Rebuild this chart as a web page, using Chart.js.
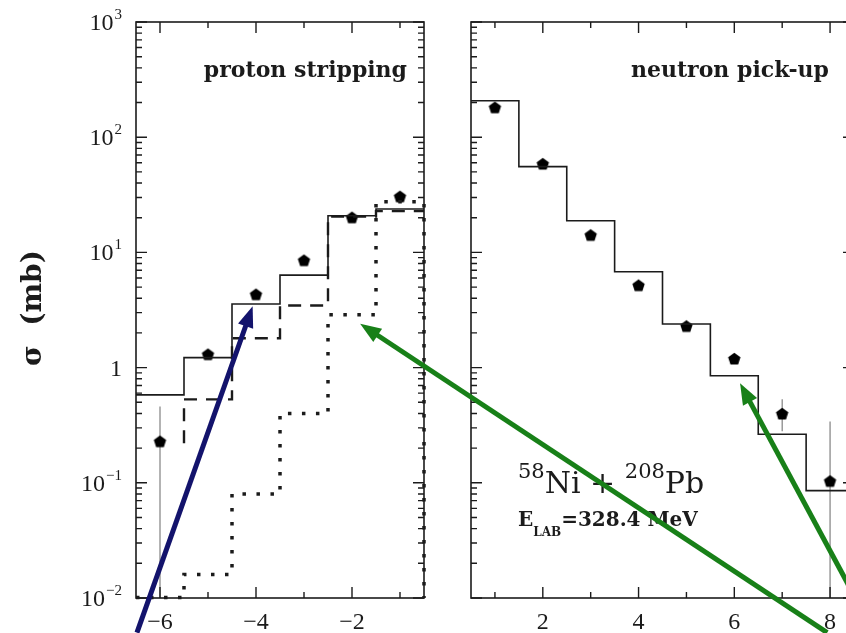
<!DOCTYPE html>
<html>
<head>
<meta charset="utf-8">
<script src="https://cdn.jsdelivr.net/npm/chart.js@4/dist/chart.umd.min.js"></script>
<style>
    html, body { margin: 0; padding: 0; background: #fff; overflow: hidden; width: 846px; height: 633px; }
    canvas { position: absolute; top: 0; }
    #leftPanel { left: 0; }
    #rightPanel { left: 440px; }
    #arrows { left: 0; pointer-events: none; }
</style>
</head>
<body>
<canvas id="leftPanel" width="440" height="633" style="width:440px;height:633px"></canvas>
<canvas id="rightPanel" width="440" height="633" style="width:440px;height:633px"></canvas>
<canvas id="arrows" width="846" height="633" style="width:846px;height:633px"></canvas>
<script>
// proton stripping (left panel), bins are in units of the x axis
const protonBins = [-6, -5, -4, -3, -2, -1];
const protonTotal = [0.58, 1.22, 3.57, 6.35, 20.8, 23.8];
const protonDashed = [null, 0.53, 1.80, 3.46, 20.5, 22.8];
const protonDashedFloor = 0.22;
const protonDotted = [0.0101, 0.016, 0.080, 0.40, 2.87, 27.5];
const protonExp = [0.23, 1.31, 4.34, 8.57, 20.2, 30.7];
const protonErrLo = [0.001, null, null, null, null, null];
const protonErrHi = [0.46, null, null, null, null, null];

// neutron pick-up (right panel)
const neutronBins = [1, 2, 3, 4, 5, 6, 7, 8];
const neutronTotal = [207, 55.5, 18.8, 6.8, 2.39, 0.85, 0.264, 0.0855];
const neutronExp = [182, 59, 14.2, 5.2, 2.30, 1.20, 0.40, 0.104];
const neutronErrLo = [null, null, null, null, null, null, 0.28, 0.001];
const neutronErrHi = [null, null, null, null, null, null, 0.53, 0.34];

// log axis decades and their labels [mantissa, exponent]
const yTicks = [0.01, 0.1, 1, 10, 100, 1000];
const yTickLabels = [['10', '\u22122'], ['10', '\u22121'], ['1', ''], ['10', '1'], ['10', '2'], ['10', '3']];

const INK = '#1b1b1b';
const SERIF = '"DejaVu Serif", serif';
const TICKFONT = '"Liberation Serif", serif';

// histogram outline: left and right edge of every bin
function histPoints(bins, values, opts = {}) {
    const pts = [];
    bins.forEach((b, i) => {
        const v = values[i];
        if (v == null) return;
        if (!pts.length && opts.floor != null) pts.push({ x: b - 0.5, y: opts.floor });
        pts.push({ x: b - 0.5, y: v }, { x: b + 0.5, y: v });
    });
    if (opts.dropTo != null) pts.push({ x: pts[pts.length - 1].x, y: opts.dropTo });
    return pts;
}

function pentagon(r) {
    const c = document.createElement('canvas');
    const s = Math.ceil(r * 2 + 2);
    c.width = s; c.height = s;
    const g = c.getContext('2d');
    g.fillStyle = '#000';
    g.beginPath();
    for (let i = 0; i < 5; i++) {
        const a = -Math.PI / 2 + i * 2 * Math.PI / 5;
        const px = s / 2 + r * Math.cos(a), py = s / 2 + r * Math.sin(a) + r * 0.1;
        if (i) g.lineTo(px, py); else g.moveTo(px, py);
    }
    g.closePath();
    g.fill();
    return c;
}
const marker = pentagon(6.5);

function lineSet(points, width, dash) {
    return {
        data: points, showLine: true, pointRadius: 0, borderColor: INK, borderWidth: width,
        borderDash: dash || [], borderCapStyle: 'butt', tension: 0, clip: 3, fill: false
    };
}

function pointSet(bins, values) {
    return {
        data: bins.map((b, i) => ({ x: b, y: values[i] })),
        showLine: false, pointStyle: marker, pointRadius: 6, clip: 6
    };
}

function scales(bins, xMin, xMax, yWidth) {
    return {
        x: {
            type: 'linear', min: xMin, max: xMax,
            grid: { display: false }, border: { display: false },
            afterBuildTicks: s => { s.ticks = bins.map(v => ({ value: v })); },
            afterFit: s => { s.height = 35; },
            ticks: {
                autoSkip: false, maxRotation: 0, padding: 2, color: INK,
                font: { family: TICKFONT, size: 24 },
                callback: v => (v % 2 === 0 ? String(v).replace('-', '\u2212') : '')
            }
        },
        y: {
            type: 'logarithmic', min: yTicks[0], max: yTicks[yTicks.length - 1],
            grid: { display: false }, border: { display: false },
            ticks: { display: false },
            afterFit: s => { s.width = yWidth; }
        }
    };
}

// frame with inward ticks on all four sides
function drawFrame(chart) {
    const { ctx, chartArea: a, scales: { x, y } } = chart;
    ctx.save();
    ctx.strokeStyle = INK;
    ctx.lineWidth = 1.6;
    ctx.strokeRect(a.left, a.top, a.right - a.left, a.bottom - a.top);
    ctx.lineWidth = 1.4;
    ctx.beginPath();
    x.ticks.forEach(t => {
        const px = x.getPixelForValue(t.value);
        const len = t.value % 2 === 0 ? 11 : 6;
        ctx.moveTo(px, a.bottom); ctx.lineTo(px, a.bottom - len);
        ctx.moveTo(px, a.top); ctx.lineTo(px, a.top + len);
    });
    const e0 = Math.round(Math.log10(y.min)), e1 = Math.round(Math.log10(y.max));
    for (let e = e0; e <= e1; e++) {
        for (let k = 1; k <= 9; k++) {
            const v = k * Math.pow(10, e);
            if (v > y.max * 1.001) break;
            const py = y.getPixelForValue(v);
            const len = k === 1 ? 11 : 6;
            ctx.moveTo(a.left, py); ctx.lineTo(a.left + len, py);
            ctx.moveTo(a.right, py); ctx.lineTo(a.right - len, py);
        }
    }
    ctx.stroke();
    ctx.restore();
}

function drawErrors(chart, bins, values, lo, hi) {
    const { ctx, chartArea: a, scales: { x, y } } = chart;
    ctx.save();
    ctx.beginPath();
    ctx.rect(a.left, a.top, a.right - a.left, a.bottom - a.top);
    ctx.clip();
    ctx.strokeStyle = '#808080';
    ctx.lineWidth = 1.2;
    ctx.beginPath();
    bins.forEach((b, i) => {
        if (lo[i] == null || hi[i] == null) return;
        const px = x.getPixelForValue(b);
        ctx.moveTo(px, y.getPixelForValue(hi[i]));
        ctx.lineTo(px, y.getPixelForValue(lo[i]));
    });
    ctx.stroke();
    ctx.restore();
}

// text run made of pieces: [text, font, baselineShift]
function drawRun(ctx, x0, y0, pieces) {
    let cx = x0;
    pieces.forEach(([t, font, dy]) => {
        ctx.font = font;
        ctx.fillText(t, cx, y0 + dy);
        cx += ctx.measureText(t).width;
    });
}

const leftDecor = {
    id: 'leftDecor',
    beforeDatasetsDraw(chart) {
        drawErrors(chart, protonBins, protonExp, protonErrLo, protonErrHi);
    },
    afterDraw(chart) {
        const { ctx, chartArea: a, scales: { y } } = chart;
        drawFrame(chart);
        ctx.save();
        ctx.fillStyle = INK;
        ctx.textBaseline = 'alphabetic';

        // decade labels with raised exponents
        yTicks.forEach((v, i) => {
            const [base, exp] = yTickLabels[i];
            const py = y.getPixelForValue(v);
            const right = a.left - 14;
            ctx.font = '15px ' + TICKFONT;
            const ew = exp ? ctx.measureText(exp).width : 0;
            ctx.textAlign = 'right';
            if (exp) ctx.fillText(exp, right, py - 3);
            ctx.font = '24px ' + TICKFONT;
            ctx.fillText(base, right - ew - (exp ? 1 : 0), py + 8);
        });

        ctx.textAlign = 'right';
        ctx.font = 'bold 22px ' + SERIF;
        ctx.fillText('proton stripping', a.right - 17, a.top + 55);

        // axis title, read bottom to top
        ctx.translate(34, 308);
        ctx.rotate(-Math.PI / 2);
        ctx.textAlign = 'center';
        ctx.textBaseline = 'middle';
        ctx.font = 'bold 28px ' + SERIF;
        ctx.fillText('\u03c3  (mb)', 0, 0);
        ctx.restore();
    }
};

const rightDecor = {
    id: 'rightDecor',
    beforeDatasetsDraw(chart) {
        drawErrors(chart, neutronBins, neutronExp, neutronErrLo, neutronErrHi);
    },
    afterDraw(chart) {
        const { ctx, chartArea: a } = chart;
        drawFrame(chart);
        ctx.save();
        ctx.fillStyle = INK;
        ctx.textAlign = 'right';
        ctx.font = 'bold 22px ' + SERIF;
        ctx.fillText('neutron pick-up', a.right - 25, a.top + 55);

        ctx.textAlign = 'left';
        const big = '30px ' + SERIF, sup = '21px ' + SERIF;
        drawRun(ctx, a.left + 47, 493, [
            ['58', sup, -15], ['Ni', big, 0], [' + ', big, 0], ['208', sup, -15], ['Pb', big, 0]
        ]);
        const lab = 'bold 20px ' + SERIF, sub = 'bold 12px ' + SERIF;
        drawRun(ctx, a.left + 47, 526, [
            ['E', lab, 0], ['LAB', sub, 10], ['=328.4 MeV', lab, 0]
        ]);
        ctx.restore();
    }
};

const common = {
    responsive: false, animation: false, events: [],
    plugins: { legend: { display: false }, tooltip: { enabled: false } }
};

const leftChart = new Chart(document.getElementById('leftPanel'), {
    type: 'scatter',
    data: {
        datasets: [
            lineSet(histPoints(protonBins, protonTotal), 1.6),
            lineSet(histPoints(protonBins, protonDashed, { floor: protonDashedFloor }), 2.4, [13, 9]),
            lineSet(histPoints(protonBins, protonDotted, { dropTo: yTicks[0] }), 3.5, [3.5, 10.5]),
            pointSet(protonBins, protonExp)
        ]
    },
    options: {
        ...common,
        layout: { padding: { left: 0, right: 16, top: 22, bottom: 0 } },
        scales: scales(protonBins, -6.5, -0.5, 136)
    },
    plugins: [leftDecor]
});

const rightChart = new Chart(document.getElementById('rightPanel'), {
    type: 'scatter',
    data: {
        datasets: [
            lineSet(histPoints(neutronBins, neutronTotal), 1.6),
            pointSet(neutronBins, neutronExp)
        ]
    },
    options: {
        ...common,
        layout: { padding: { left: 0, right: 26, top: 22, bottom: 0 } },
        scales: scales(neutronBins, 0.5, 8.5, 31)
    },
    plugins: [rightDecor]
});

// pointer arrows, ends given in the data units of the panel they sit in
const arrowList = [
    { color: '#13136c', from: [leftChart, -6.48, 0.005], to: [leftChart, -4.07, 3.4] },
    { color: '#188018', from: [rightChart, 7.94, 0.005], to: [leftChart, -1.83, 2.4] },
    { color: '#188018', from: [rightChart, 8.92, 0.005], to: [rightChart, 6.12, 0.73] }
];

function pagePoint([chart, vx, vy]) {
    const off = chart.canvas.offsetLeft;
    return [off + chart.scales.x.getPixelForValue(vx), chart.scales.y.getPixelForValue(vy)];
}

const actx = document.getElementById('arrows').getContext('2d');
arrowList.forEach(ar => {
    const [x1, y1] = pagePoint(ar.from);
    const [x2, y2] = pagePoint(ar.to);
    const ang = Math.atan2(y2 - y1, x2 - x1);
    const head = 21, half = 8;
    const bx = x2 - head * Math.cos(ang), by = y2 - head * Math.sin(ang);
    actx.strokeStyle = ar.color;
    actx.fillStyle = ar.color;
    actx.lineWidth = 5;
    actx.beginPath();
    actx.moveTo(x1, y1);
    actx.lineTo(bx + 2 * Math.cos(ang), by + 2 * Math.sin(ang));
    actx.stroke();
    actx.beginPath();
    actx.moveTo(x2, y2);
    actx.lineTo(bx + half * Math.sin(ang), by - half * Math.cos(ang));
    actx.lineTo(bx - half * Math.sin(ang), by + half * Math.cos(ang));
    actx.closePath();
    actx.fill();
});
</script>
</body>
</html>
